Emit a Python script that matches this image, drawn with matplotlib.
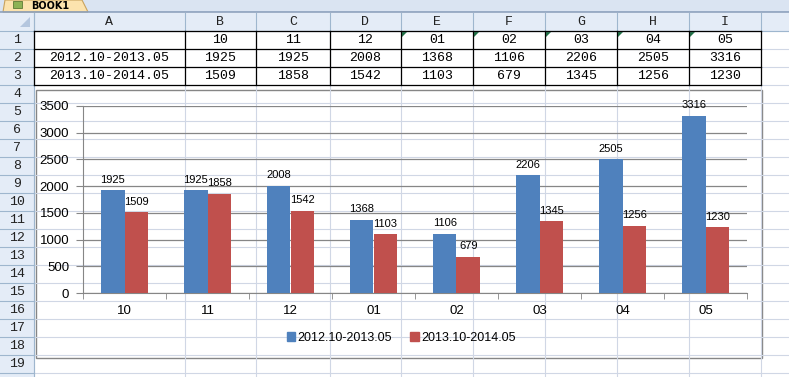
import numpy as np
import matplotlib.pyplot as plt
from matplotlib.patches import Rectangle, Polygon, Patch

# data
months = ['10', '11', '12', '01', '02', '03', '04', '05']
series_names = ['2012.10-2013.05', '2013.10-2014.05']
s1 = [1925, 1925, 2008, 1368, 1106, 2206, 2505, 3316]
s2 = [1509, 1858, 1542, 1103, 679, 1345, 1256, 1230]
col_letters = ['A', 'B', 'C', 'D', 'E', 'F', 'G', 'H', 'I']

W, H = 789, 377
fig = plt.figure(figsize=(W / 100, H / 100), dpi=100)
fig.patch.set_facecolor('white')

# spreadsheet background drawn in pixel coords
bg = fig.add_axes([0, 0, 1, 1])
bg.set_xlim(0, W)
bg.set_ylim(H, 0)
bg.axis('off')

cell_font = 'Liberation Mono'
col_edges = [34, 185, 256, 330, 401, 473, 545, 617, 689, 761, 850]
row_h = 18
top = 31
grid_c = '#D0D7E5'
head_c = '#E4ECF7'
head_line = '#9EB6CE'

# cell gridlines
for k in range(20):
    y = top + k * row_h
    bg.plot([34, W], [y, y], color=grid_c, lw=0.8)
for x in col_edges:
    bg.plot([x, x], [top, H], color=grid_c, lw=0.8)

# tab bar
bg.add_patch(Rectangle((0, 0), W, 12, facecolor='#DAE4F2', edgecolor='none'))
bg.plot([0, W], [12, 12], color='#8BA0BC', lw=1.2)
bg.add_patch(Polygon([(3, 12), (5, 0), (82, 0), (88, 12)], closed=True,
                     facecolor='#FCE3AE', edgecolor='#C9A35E', lw=0.8))
bg.add_patch(Rectangle((13, 1), 9, 7, facecolor='#8DB255', edgecolor='#5E7A35', lw=0.6))
bg.text(31, 6, 'BOOK1', fontsize=7, fontweight='bold', ha='left', va='center',
        family='DejaVu Sans')

# column header row
bg.add_patch(Rectangle((0, 13), W, 18, facecolor=head_c, edgecolor='none'))
bg.plot([0, W], [31, 31], color=head_line, lw=0.8)
for x in col_edges:
    bg.plot([x, x], [13, 31], color=head_line, lw=0.8)
for i, c in enumerate(col_letters):
    bg.text((col_edges[i] + col_edges[i + 1]) / 2, 22, c, fontsize=9.5,
            family=cell_font, ha='center', va='center', color='#222222')
bg.add_patch(Polygon([(30, 27), (30, 17), (20, 27)], closed=True,
                     facecolor='#B4C6DE', edgecolor='none'))

# row header column
bg.add_patch(Rectangle((0, 31), 34, H - 31, facecolor=head_c, edgecolor='none'))
bg.plot([34, 34], [13, H], color=head_line, lw=0.8)
for k in range(1, 21):
    y = top + k * row_h
    bg.plot([0, 34], [y, y], color=head_line, lw=0.8)
    if k <= 19:
        bg.text(17, y - row_h / 2, str(k), fontsize=9.5, family=cell_font,
                ha='center', va='center', color='#222222')

# table cells
rows = [[''] + months, [series_names[0]] + [str(v) for v in s1],
        [series_names[1]] + [str(v) for v in s2]]
for r in range(4):
    y = top + r * row_h
    bg.plot([34, 761], [y, y], color='black', lw=0.9)
for x in col_edges[:10]:
    bg.plot([x, x], [top, top + 3 * row_h], color='black', lw=0.9)
for r, vals in enumerate(rows):
    y = top + r * row_h + row_h / 2
    for i, v in enumerate(vals):
        bg.text((col_edges[i] + col_edges[i + 1]) / 2, y, v, fontsize=9.5,
                family=cell_font, ha='center', va='center', color='black')
# green "number as text" markers
for i in range(4, 9):
    x = col_edges[i]
    bg.add_patch(Polygon([(x + 1, top + 1), (x + 6, top + 1), (x + 1, top + 6)],
                         closed=True, facecolor='#1E7145', edgecolor='none'))

# chart frame
bg.add_patch(Rectangle((36, 90), 726, 268, facecolor='white', edgecolor='#868686', lw=1))

# chart
ax = fig.add_axes([83 / W, (H - 293) / H, (747 - 83) / W, (293 - 106) / H])
ax.set_facecolor('none')
x = np.arange(len(months))
w = 0.283
blue = '#4F81BD'
red = '#C0504D'
b1 = ax.bar(x - w / 2, s1, w, color=blue, zorder=3)
b2 = ax.bar(x + w / 2, s2, w, color=red, zorder=3)
for bars, vals in [(b1, s1), (b2, s2)]:
    for b, v in zip(bars, vals):
        ax.annotate(str(v), (b.get_x() + b.get_width() / 2, v), xytext=(0, 4),
                    textcoords='offset points', ha='center', va='bottom',
                    fontsize=8, family='Liberation Sans')

ax.set_xlim(-0.5, len(months) - 0.5)
ax.set_ylim(0, 3500)
ax.set_yticks(np.arange(0, 3501, 500))
ax.yaxis.grid(True, color='#868686', lw=0.9, zorder=0)
ax.set_axisbelow(True)
ax.set_xticks(x)
ax.set_xticklabels(months)
ax.set_xticks(np.arange(-0.5, len(months)), minor=True)
ax.tick_params(axis='x', which='major', length=0, pad=9)
ax.tick_params(axis='x', which='minor', length=4, color='#868686')
ax.tick_params(axis='y', length=5, color='#868686', pad=5)
for lab in ax.get_xticklabels() + ax.get_yticklabels():
    lab.set_fontsize(9.5)
    lab.set_family('Liberation Sans')
for s in ['top', 'right']:
    ax.spines[s].set_visible(False)
for s in ['left', 'bottom']:
    ax.spines[s].set_color('#868686')

handles = [Patch(color=blue), Patch(color=red)]
fig.legend(handles, series_names, loc='center', bbox_to_anchor=(401 / W, (H - 338) / H),
           ncol=2, frameon=False, handlelength=0.7, handleheight=0.7,
           handletextpad=0.2, columnspacing=1.4,
           prop={'family': 'Liberation Sans', 'size': 9})

fig.savefig('out.png', dpi=100)
